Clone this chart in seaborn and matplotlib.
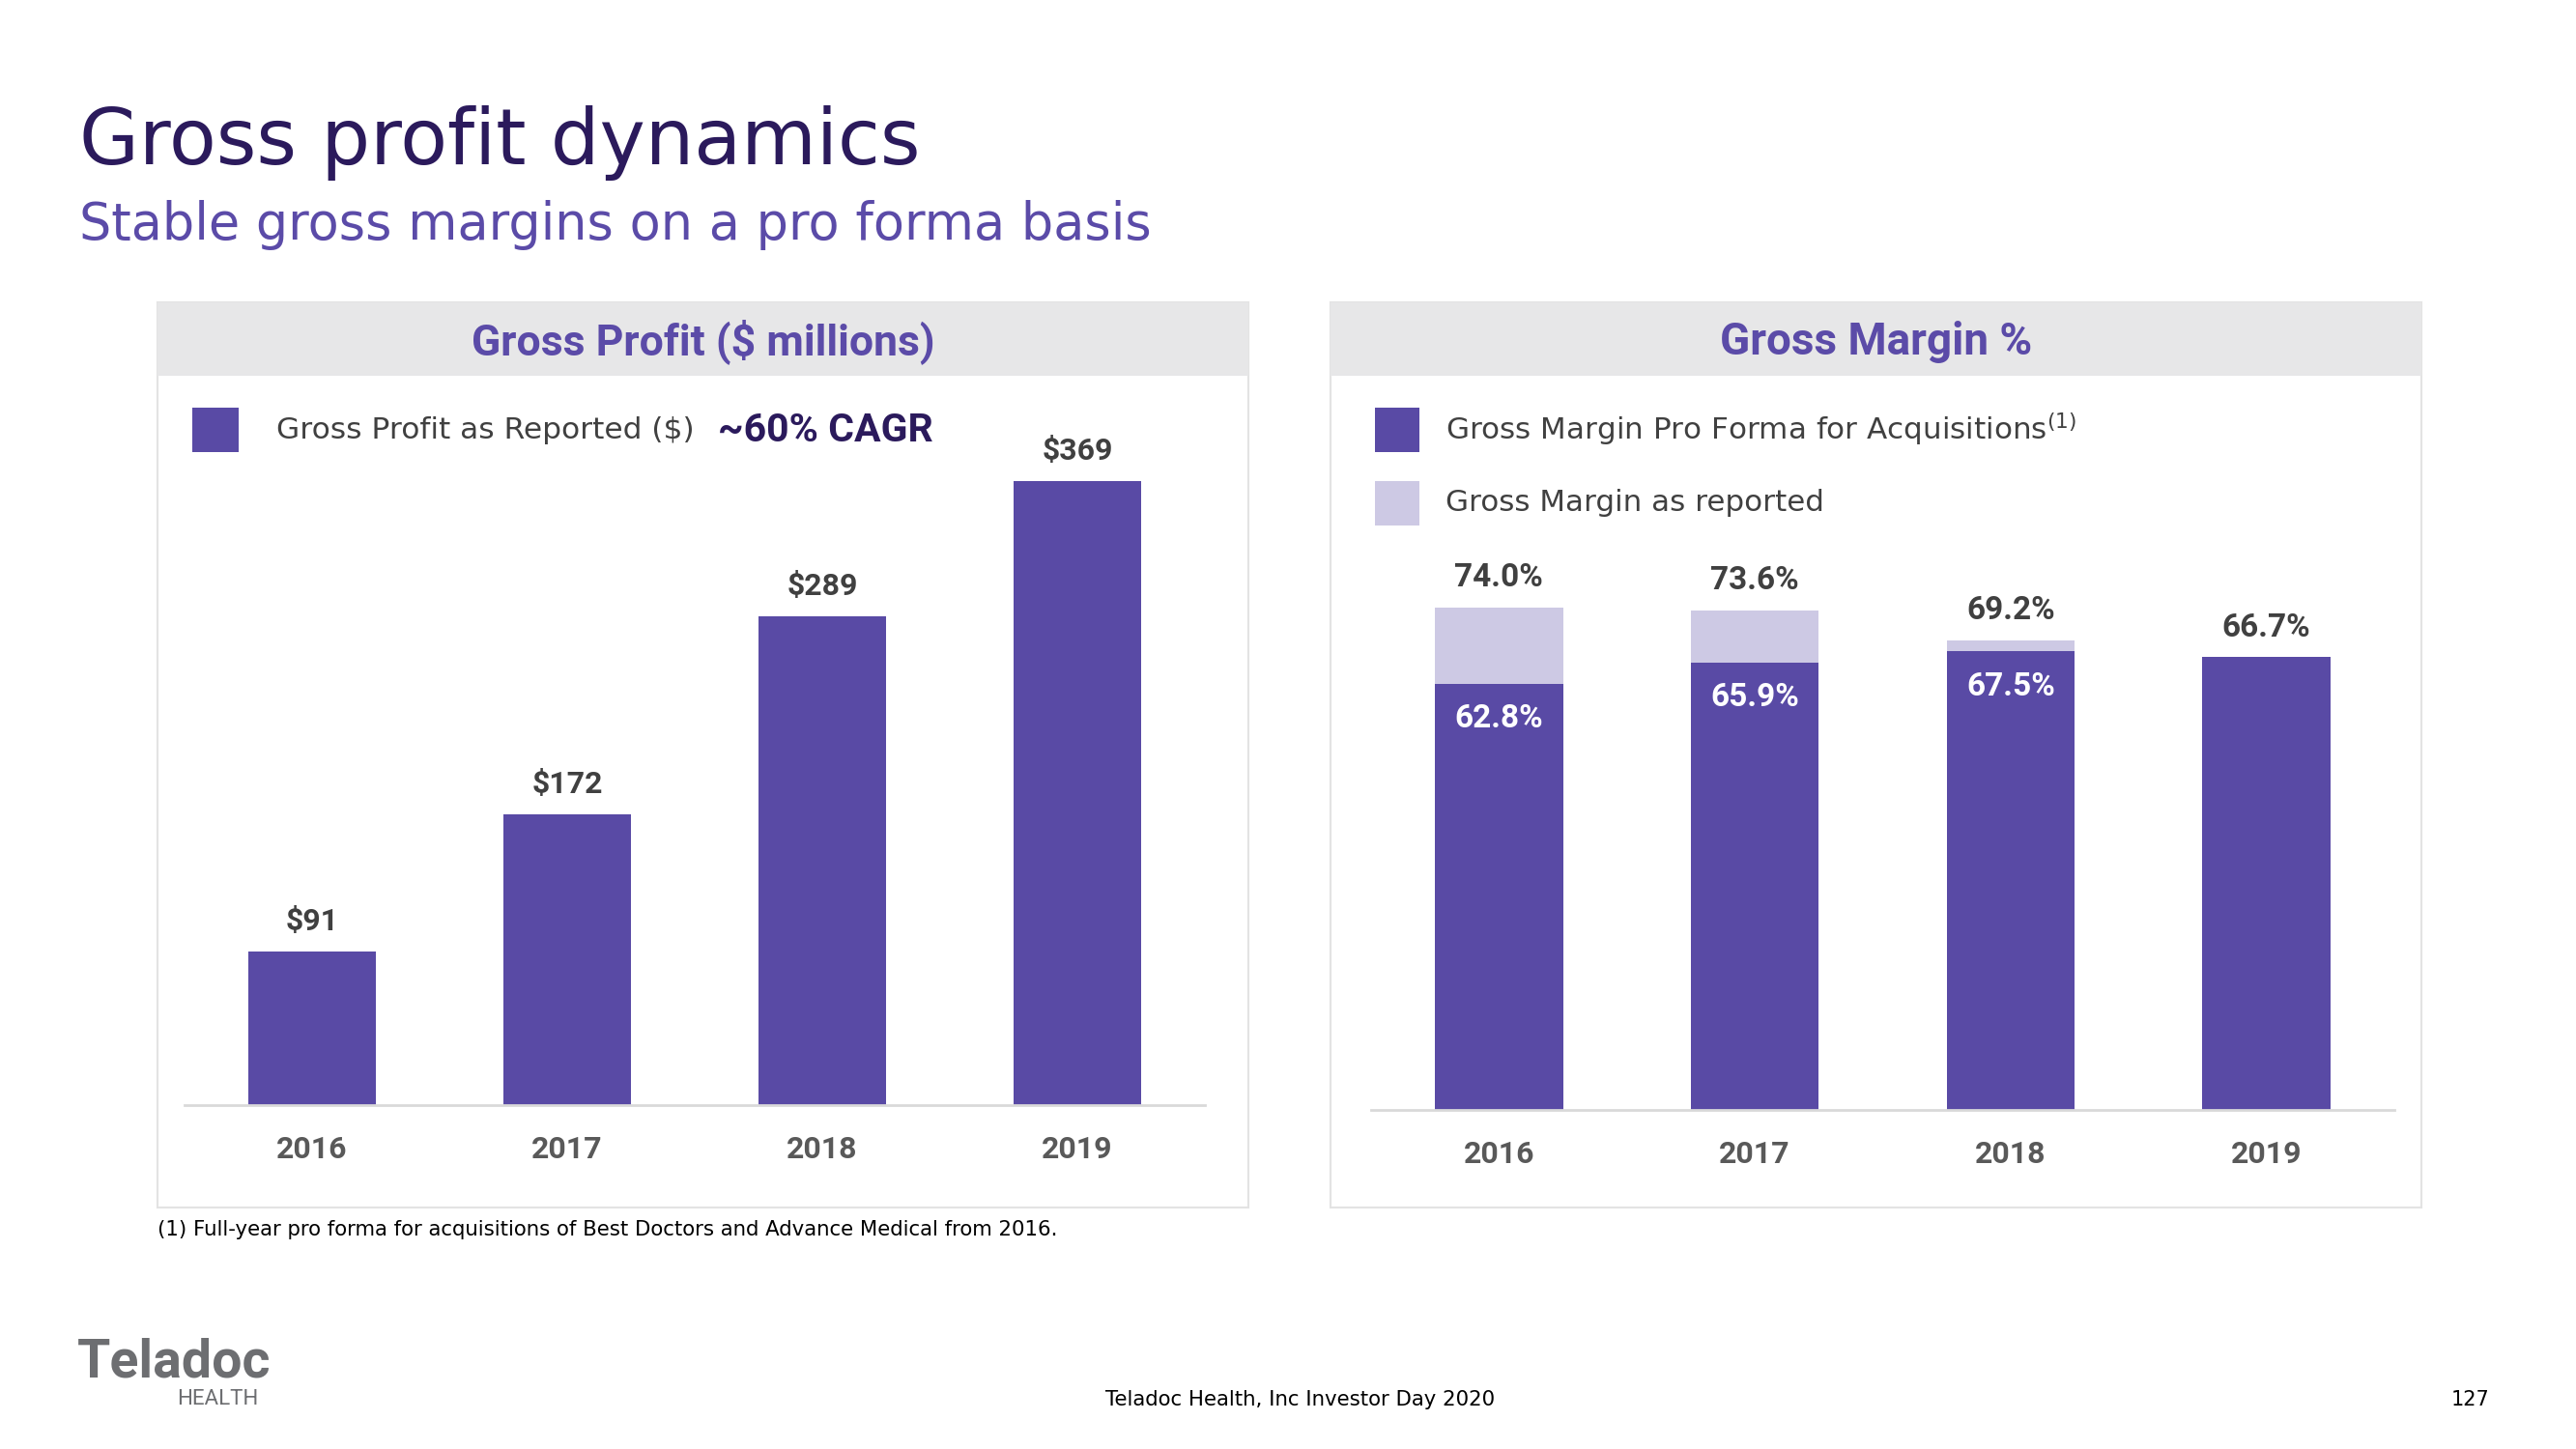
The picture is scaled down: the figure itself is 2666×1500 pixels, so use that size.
import matplotlib
matplotlib.use("Agg")
import matplotlib.pyplot as plt
from matplotlib.patches import Rectangle
import seaborn as sns

# data
years = ["2016", "2017", "2018", "2019"]
gross_profit = [91, 172, 289, 369]
gross_profit_labels = ["$91", "$172", "$289", "$369"]
margin_reported = [74.0, 73.6, 69.2, 66.7]
margin_pro_forma = [62.8, 65.9, 67.5, 66.7]
margin_reported_labels = ["74.0%", "73.6%", "69.2%", "66.7%"]
margin_pro_forma_labels = ["62.8%", "65.9%", "67.5%", None]

DARK = "#594AA5"
LIGHT = "#CDC9E4"
TITLE_C = "#2B1A5C"
SUB_C = "#5B4BA8"
LABEL_C = "#404040"
TICK_C = "#595959"
GRID_C = "#D9D9D9"

sns.set_style("white")
plt.rcParams["font.family"] = ["DejaVu Sans"]

W, H = 2666, 1500
fig = plt.figure(figsize=(W / 100, H / 100), dpi=100)


def fx(x):
    return x / W


def fy(y):
    return 1 - y / H


def box(x0, y0, x1, y1, **kw):
    fig.patches.append(Rectangle((fx(x0), fy(y1)), fx(x1) - fx(x0), fy(y0) - fy(y1),
                                 transform=fig.transFigure, **kw))


BOLD = dict(family=["Roboto", "DejaVu Sans"], weight="bold")

# titles
fig.text(fx(82), fy(170), "Gross profit dynamics", fontsize=57.5, color=TITLE_C, va="baseline")
fig.text(fx(82), fy(248), "Stable gross margins on a pro forma basis", fontsize=37.8,
         color=SUB_C, va="baseline")

# panel frames and headers
for x0, x1, head, size in [(163, 1292, "Gross Profit ($ millions)", 32),
                           (1377, 2506, "Gross Margin %", 33)]:
    box(x0, 313, x1, 1250, facecolor="white", edgecolor="#E3E3E3", linewidth=1.5, zorder=-2)
    box(x0, 313, x1, 389, facecolor="#E7E7E8", edgecolor="none", zorder=-1)
    fig.text(fx((x0 + x1) / 2), fy(354), head, fontsize=size, color=SUB_C, ha="center",
             va="center", **BOLD)

# legends
box(199, 422, 247, 468, facecolor=DARK, edgecolor="none")
fig.text(fx(286), fy(446), "Gross Profit as Reported ($)", fontsize=22.5, color=LABEL_C, va="center")
fig.text(fx(743), fy(446), "~60% CAGR", fontsize=29.5, color=TITLE_C, va="center", **BOLD)

box(1423, 422, 1469, 468, facecolor=DARK, edgecolor="none")
fig.text(fx(1496), fy(444), r"Gross Margin Pro Forma for Acquisitions$^{(1)}$", fontsize=22.3,
         color=LABEL_C, va="center")
box(1423, 498, 1469, 544, facecolor=LIGHT, edgecolor="none")
fig.text(fx(1496), fy(521), "Gross Margin as reported", fontsize=22.3, color=LABEL_C, va="center")

# left chart: gross profit
ax1 = fig.add_axes([fx(191), fy(1144), 1056 / W, 724 / H])
sns.barplot(x=years, y=gross_profit, color=DARK, saturation=1, width=0.5, linewidth=0, ax=ax1)
ax1.set_ylim(0, 724 / 1.75)
for i, (v, lab) in enumerate(zip(gross_profit, gross_profit_labels)):
    ax1.annotate(lab, (i, v), xytext=(0, 22.5), textcoords="offset points", ha="center",
                 va="center", fontsize=23, color=LABEL_C, **BOLD)

# right chart: gross margin
ax2 = fig.add_axes([fx(1419), fy(1149), 1059 / W, 729 / H])
sns.barplot(x=years, y=margin_reported, color=LIGHT, saturation=1, width=0.5, linewidth=0, ax=ax2)
sns.barplot(x=years, y=margin_pro_forma, color=DARK, saturation=1, width=0.5, linewidth=0, ax=ax2)
ax2.set_ylim(0, 729 / 7.03)
for i, (v, lab) in enumerate(zip(margin_reported, margin_reported_labels)):
    ax2.annotate(lab, (i, v), xytext=(0, 22), textcoords="offset points", ha="center",
                 va="center", fontsize=24, color=LABEL_C, **BOLD)
for i, (v, lab) in enumerate(zip(margin_pro_forma, margin_pro_forma_labels)):
    if lab:
        ax2.annotate(lab, (i, v), xytext=(0, -26), textcoords="offset points", ha="center",
                     va="center", fontsize=24, color="white", **BOLD)

for ax in (ax1, ax2):
    ax.set_zorder(5)
    ax.set_facecolor("none")
    ax.patch.set_alpha(0)
    ax.set_xlabel("")
    ax.set_ylabel("")
    ax.set_yticks([])
    sns.despine(ax=ax, left=True, top=True, right=True)
    ax.spines["bottom"].set_color(GRID_C)
    ax.spines["bottom"].set_linewidth(2)
    ax.tick_params(axis="x", length=0, pad=22, labelsize=23, labelcolor=TICK_C)
    for t in ax.get_xticklabels():
        t.set_fontfamily(["Roboto", "DejaVu Sans"])
        t.set_fontweight("bold")

# footnote and footer
fig.text(fx(163), fy(1273), "(1) Full-year pro forma for acquisitions of Best Doctors and "
         "Advance Medical from 2016.", fontsize=15.3, color="black", va="center")
fig.text(fx(80), fy(1411), "Teladoc", fontsize=40, color="#6D6E71", va="center", **BOLD)
fig.text(fx(267), fy(1449), "HEALTH", fontsize=16, color="#6D6E71", ha="right", va="center",
         family=["Roboto", "DejaVu Sans"])
fig.text(fx(1346), fy(1449), "Teladoc Health, Inc Investor Day 2020", fontsize=15.3,
         color="black", ha="center", va="center")
fig.text(fx(2576), fy(1449), "127", fontsize=15, color="black", ha="right", va="center")

fig.savefig("out.png", dpi=100)
